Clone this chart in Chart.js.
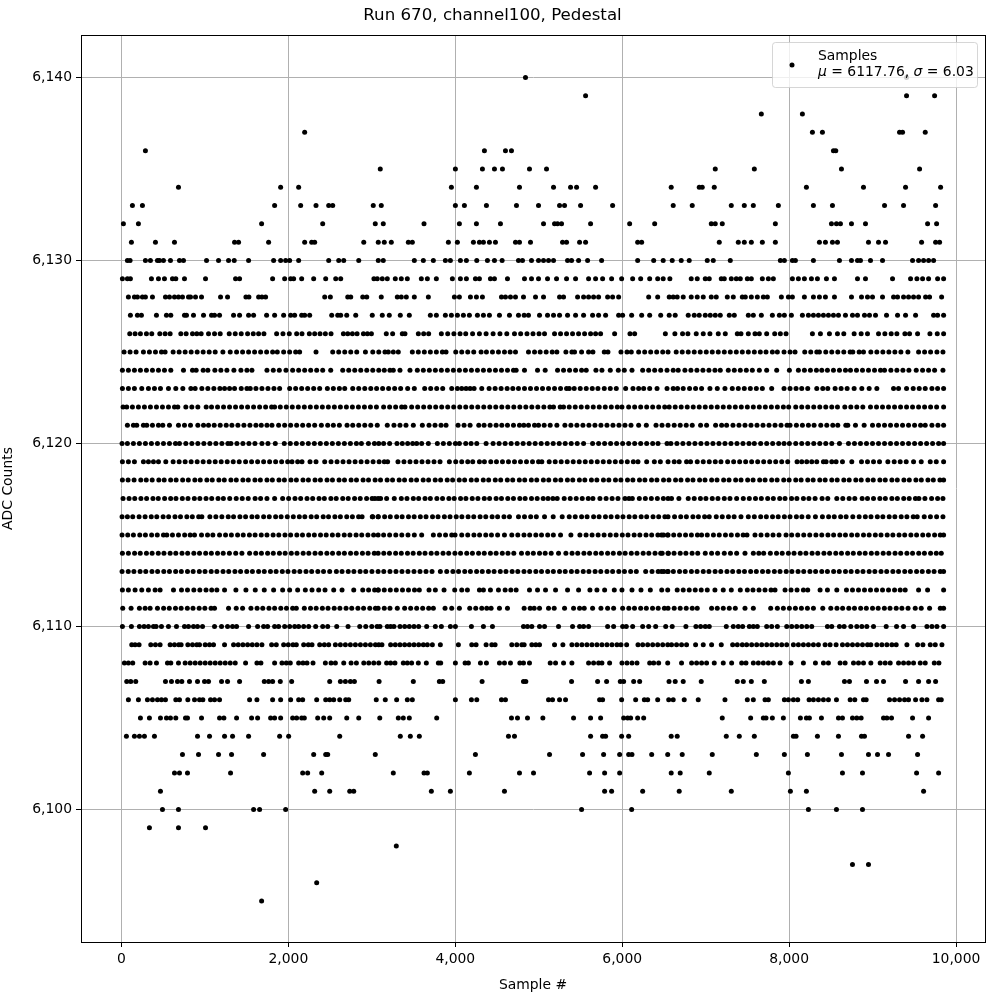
<!DOCTYPE html>
<html>
<head>
<meta charset="utf-8">
<style>html,body{margin:0;padding:0;background:#fff}canvas{display:block}</style>
<script src="https://cdn.jsdelivr.net/npm/chart.js@4/dist/chart.umd.min.js"></script>
</head>
<body>
<canvas id="c" width="1000" height="1000"></canvas>
<script>
const chartTitle = "Run 670, channel100, Pedestal";
const xTitle = "Sample #";
const yTitle = "ADC Counts";
const legendName = "Samples";
const mu = "6117.76";
const sigma = "6.03";

const s6140=[4841,9407];
const s6139=[5561,9407,9743];
const s6138=[7667,8159];
const s6137=[2195,8279,8399,9323,9359,9631];
const s6136=[287,4349,4601,4673,8531,8559];
const s6135=[3101,4001,4325,4469,4565,4889,5093,7115,7583,8627,9563];
const s6134=[683,1907,2123,3953,4253,4769,5177,5381,5453,5681,6587,6923,6959,7103,8207,8891,9395,9815];
const s6133=[131,251,1835,2147,2331,2483,2531,3017,3113,4001,4109,4373,4733,4997,5249,5309,5501,5885,6611,6839,7307,7463,7571,7871,8291,8519,9143,9371,9755];
const s6132=[23,203,1679,2411,3041,3137,3625,4049,4253,4541,5057,5189,5225,5273,5621,6089,6389,7067,7115,7199,7835,8507,8567,8615,8747,8915,9659,9767];
const s6131=[119,407,635,1355,1403,1763,2195,2279,2315,2903,3077,3149,3233,3437,3485,3917,4025,4217,4289,4337,4409,4481,4721,4769,4901,5285,5333,5489,5561,6185,6233,7163,7391,7463,7547,7679,7835,8363,8435,8519,8579,8951,9071,9155,9587,9755,9803];
const s6130=[71,103,287,347,431,455,503,587,695,743,1019,1163,1283,1351,1523,1823,1907,1967,2015,2123,2483,2603,2663,2843,3077,3137,3509,3617,3737,3881,3941,4061,4133,4257,4385,4469,4561,4757,4805,4913,4997,5057,5117,5177,5345,5393,5477,5585,5753,6185,6377,6491,6599,6707,6803,7019,7091,7295,7895,7943,8039,8075,8291,8603,8747,8819,8855,8975,9119,9479,9551,9611,9671,9731];
const s6129=[11,71,107,359,443,515,611,651,755,1007,1367,1415,1811,1955,2027,2063,2159,2303,2447,2567,2627,3025,3065,3125,3185,3281,3353,3425,3593,3665,3773,3965,4061,4133,4241,4289,4421,4469,4625,4829,4913,4997,5105,5213,5333,5441,5597,5681,5765,5873,5993,6125,6221,6329,6425,6491,6571,6827,6899,6995,7043,7187,7223,7307,7367,7415,7499,7547,7679,7751,7811,8039,8111,8183,8267,8339,8447,8543,8819,8915,9239,9455,9531,9599,9671,9779,9851];
const s6128=[83,155,191,251,287,371,527,575,635,683,731,803,827,887,959,1187,1271,1491,1527,1643,1683,1727,2435,2503,2711,2747,2891,2939,3113,3305,3353,3413,3509,3677,3989,4049,4181,4253,4325,4553,4601,4661,4721,4817,4961,5057,5249,5297,5465,5537,5597,5657,5717,5825,5885,5957,6317,6425,6563,6611,6659,6731,6827,6899,6971,7067,7127,7259,7331,7439,7475,7547,7619,7691,7739,7907,7991,8039,8183,8291,8363,8435,8543,8747,8867,8939,8999,9119,9251,9299,9371,9431,9491,9551,9635,9683,9827];
const s6127=[107,191,239,419,539,591,755,779,863,983,1079,1115,1175,1343,1415,1523,1583,1739,1835,1943,2027,2075,2159,2195,2255,2519,2591,2627,2699,2807,3005,3125,3209,3341,3449,3701,3773,3881,3953,4025,4097,4169,4265,4337,4409,4529,4649,4757,4825,4877,5009,5105,5177,5249,5345,5441,5537,5645,5717,5801,5957,6005,6113,6233,6329,6461,6563,6635,6791,6863,6923,6995,7055,7115,7175,7283,7343,7511,7571,7667,7799,7883,7943,8027,8159,8231,8291,8351,8411,8471,8531,8591,8675,8759,8819,8903,8963,9035,9167,9299,9395,9515,9731,9779,9851];
const s6126=[99,163,227,299,363,459,523,583,711,775,851,903,955,1043,1115,1183,1291,1363,1435,1511,1579,1643,1707,1859,1935,2011,2099,2163,2251,2315,2379,2443,2511,2659,2711,2767,2823,2899,2947,2995,3173,3249,3365,3397,3557,3621,3681,3833,3909,3983,4057,4125,4207,4289,4369,4453,4535,4617,4709,4783,4859,4931,5003,5069,5189,5261,5333,5405,5477,5549,5621,5681,5741,5909,6093,6149,6517,6631,6723,6787,6887,6971,7051,7151,7235,7379,7423,7511,7591,7643,7731,7827,7895,7963,8279,8375,8483,8579,8655,8779,8863,8939,9071,9147,9223,9291,9387,9443,9539,9687,9775,9851];
const s6125=[31,103,175,263,335,407,479,523,619,691,763,835,907,979,1051,1123,1215,1303,1379,1451,1523,1595,1667,1739,1811,1867,1943,2015,2087,2135,2331,2531,2603,2675,2747,2819,2923,3011,3083,3157,3197,3257,3317,3485,3557,3629,3701,3773,3845,3889,4005,4077,4149,4221,4309,4373,4445,4517,4589,4657,4721,4877,4949,5017,5089,5161,5217,5325,5397,5429,5513,5597,5649,5785,5829,5985,6057,6109,6197,6269,6341,6413,6485,6549,6647,6719,6791,6863,6935,7007,7079,7151,7223,7295,7367,7439,7511,7583,7655,7723,7799,7859,7939,8011,8071,8187,8259,8331,8363,8439,8511,8583,8655,8731,8763,8839,8891,8979,9051,9123,9195,9267,9339,9423,9551,9623,9695,9771,9843];
const s6124=[11,83,155,227,299,371,443,515,591,743,851,895,979,1035,1119,1191,1263,1347,1431,1503,1563,1743,1819,1891,1971,2051,2123,2195,2267,2339,2411,2507,2651,2723,2795,2867,2939,3011,3083,3149,3217,3257,3337,3457,3545,3617,3689,3761,3833,3905,3977,4049,4121,4193,4265,4337,4409,4481,4553,4625,4697,4729,4829,4985,5077,5225,5297,5369,5441,5513,5569,5685,5757,5857,5953,6025,6117,6245,6317,6389,6461,6537,6611,6671,6751,6823,6895,6967,7039,7111,7175,7271,7343,7415,7487,7559,7643,7731,7851,8003,8111,8183,8255,8327,8391,8459,8531,8603,8675,8735,8807,8879,8951,9023,9095,9143,9219,9291,9363,9435,9523,9599,9671,9743,9843];
const s6123=[11,83,155,243,323,395,467,563,651,735,831,883,963,1035,1107,1179,1235,1295,1355,1435,1503,1543,1611,1683,1755,1827,1895,2015,2087,2159,2231,2303,2375,2467,2539,2611,2675,2771,2843,2915,2987,3057,3129,3201,3273,3345,3429,3509,3633,3705,3777,3849,3957,4025,4077,4129,4177,4225,4317,4405,4477,4549,4621,4689,4757,4829,4901,4973,5045,5117,5189,5261,5333,5365,5425,5497,5569,5641,5709,5785,5857,5929,6041,6129,6197,6257,6329,6417,6537,6611,6663,6731,6807,6879,6951,7051,7139,7231,7319,7391,7463,7535,7607,7679,7791,7939,8011,8083,8151,8223,8331,8403,8463,8551,8623,8695,8779,8871,8959,9051,9251,9311,9407,9487,9559,9631,9711,9779,9851];
const s6122=[19,63,131,203,275,347,419,491,563,635,675,771,843,915,1015,1079,1151,1223,1295,1367,1439,1511,1583,1655,1727,1799,1835,1903,1975,2047,2119,2191,2263,2335,2407,2479,2551,2623,2695,2767,2839,2911,2983,3055,3141,3213,3285,3357,3397,3477,3549,3621,3693,3765,3837,3909,3981,4053,4125,4197,4269,4341,4413,4485,4557,4629,4701,4773,4845,4917,4989,5061,5133,5177,5257,5297,5365,5437,5509,5581,5653,5725,5797,5869,5941,5997,6077,6149,6221,6293,6365,6437,6509,6563,6635,6707,6779,6851,6923,6995,7067,7139,7211,7283,7355,7427,7499,7571,7643,7715,7787,7859,7931,7995,8079,8151,8223,8295,8367,8439,8511,8579,8667,8739,8811,8883,8975,9047,9119,9191,9263,9335,9407,9479,9551,9623,9695,9767,9851];
const s6121=[71,143,183,263,303,371,443,495,575,683,755,827,915,983,1043,1111,1183,1255,1323,1395,1467,1539,1611,1675,1743,1803,1883,1955,2027,2099,2171,2243,2315,2395,2471,2539,2611,2703,2771,2843,2915,2987,3065,3185,3265,3337,3409,3497,3605,3685,3757,3829,3889,4033,4105,4177,4281,4345,4417,4489,4557,4625,4697,4769,4821,4877,4949,4997,5065,5137,5217,5313,5385,5457,5529,5601,5673,5745,5817,5889,5961,6033,6105,6197,6289,6405,6477,6549,6623,6695,6767,6839,6939,7011,7119,7191,7251,7327,7399,7471,7543,7615,7687,7759,7831,7903,7975,8011,8087,8159,8231,8299,8379,8451,8523,8583,8679,8703,8795,8899,8999,9071,9143,9215,9287,9359,9431,9503,9575,9631,9711,9783,9851];
const s6120=[7,71,143,215,287,359,431,503,575,647,695,771,843,915,987,1059,1131,1203,1275,1311,1383,1455,1527,1599,1683,1755,1843,1951,2023,2095,2167,2239,2311,2383,2455,2527,2599,2671,2743,2815,2875,2959,3031,3083,3141,3213,3301,3365,3429,3489,3537,3597,3677,3785,3857,3929,4001,4049,4125,4189,4257,4369,4453,4525,4597,4669,4741,4813,4885,4957,5029,5101,5173,5245,5317,5389,5461,5537,5645,5717,5789,5861,5933,6005,6077,6149,6221,6293,6365,6429,6537,6583,6655,6727,6799,6871,6943,7015,7087,7159,7231,7303,7375,7447,7519,7583,7659,7731,7803,7875,7939,8003,8079,8151,8223,8295,8367,8439,8511,8603,8711,8783,8855,8927,8999,9071,9143,9215,9287,9359,9431,9503,9575,9647,9719,9791,9851];
const s6119=[11,83,155,263,323,383,443,531,619,691,763,835,907,979,1051,1123,1195,1267,1339,1411,1487,1559,1631,1703,1775,1847,1919,1991,2043,2111,2163,2259,2331,2435,2511,2583,2655,2727,2799,2871,2943,3015,3087,3149,3189,3313,3385,3457,3529,3601,3673,3745,3817,3929,4005,4077,4149,4209,4289,4349,4425,4493,4565,4637,4709,4781,4853,4925,4997,5037,5125,5197,5269,5341,5413,5485,5557,5629,5701,5773,5845,5917,5989,6061,6133,6189,6293,6385,6457,6549,6623,6683,6771,6819,6899,6971,7043,7115,7183,7263,7335,7407,7479,7551,7623,7695,7767,7839,7911,7983,8095,8151,8211,8271,8331,8411,8443,8511,8563,8639,8751,8867,8939,9011,9083,9183,9259,9331,9403,9491,9583,9691,9763,9851];
const s6118=[11,79,151,231,297,368,447,512,589,655,733,801,879,944,1023,1088,1167,1232,1311,1376,1455,1520,1599,1664,1743,1808,1887,1952,2031,2096,2175,2240,2319,2384,2463,2528,2607,2672,2751,2816,2895,2960,3039,3104,3183,3248,3327,3392,3471,3536,3615,3680,3759,3824,3903,3968,4047,4112,4191,4256,4335,4400,4479,4544,4623,4688,4767,4832,4911,4976,5055,5120,5199,5264,5343,5408,5487,5552,5631,5696,5775,5840,5919,5984,6063,6128,6207,6272,6351,6416,6495,6560,6639,6704,6783,6848,6927,6992,7071,7136,7215,7280,7359,7424,7503,7568,7647,7712,7791,7856,7935,8000,8079,8144,8223,8288,8367,8432,8511,8576,8655,8720,8799,8864,8943,9008,9087,9152,9231,9296,9375,9440,9519,9584,9663,9728,9807,9851];
const s6117=[19,91,159,233,301,377,441,517,589,653,729,797,873,939,1013,1081,1157,1221,1297,1375,1447,1519,1601,1667,1743,1835,1931,2003,2079,2147,2223,2291,2367,2431,2509,2573,2651,2717,2793,2861,2937,3003,3075,3037,3105,3177,3269,3353,3421,3497,3561,3637,3701,3779,3847,3923,3987,4063,4127,4203,4271,4347,4411,4489,4553,4629,4697,4773,4837,4913,4981,5053,5111,5169,5221,5305,5377,5449,5521,5593,5649,5733,5807,5879,5949,6033,6081,6121,6205,6277,6349,6421,6493,6549,6591,6679,6791,6863,6937,7003,7079,7147,7223,7291,7371,7451,7523,7597,7667,7743,7811,7887,7951,8029,8093,8171,8237,8311,8395,8463,8571,8643,8719,8787,8875,8939,9011,9087,9153,9231,9297,9373,9439,9513,9555,9627,9707,9779,9843];
const s6116=[7,71,135,211,283,357,423,499,565,641,707,783,849,925,963,1059,1131,1203,1279,1343,1419,1487,1563,1627,1703,1771,1847,1913,1987,2059,2131,2197,2273,2339,2417,2481,2557,2623,2699,2767,2841,2883,3011,3075,3005,3077,3153,3221,3297,3363,3439,3507,3581,3649,3727,3793,3869,3937,4011,4079,4153,4221,4297,4365,4441,4507,4583,4649,4757,4829,4903,4971,5069,5173,5281,5365,5437,5513,5579,5657,5723,5799,5867,5941,6009,6083,6151,6227,6293,6369,6437,6511,6549,6627,6701,6769,6847,6913,6987,7043,7127,7199,7273,7341,7423,7511,7583,7659,7727,7801,7869,7943,8011,8087,8153,8229,8315,8399,8473,8541,8617,8683,8763,8839,8913,8981,9057,9123,9199,9267,9343,9411,9487,9535,9619,9693,9767,9843];
const s6115=[7,75,143,219,287,361,429,503,543,611,683,757,823,875,959,1031,1095,1175,1247,1317,1391,1459,1533,1601,1675,1743,1817,1885,1959,2027,2101,2169,2243,2311,2385,2453,2527,2595,2669,2737,2811,2879,2953,3021,3075,3141,3213,3287,3359,3433,3509,3597,3737,3811,3883,3957,3997,4077,4149,4223,4291,4365,4433,4507,4589,4677,4749,4823,4891,4965,5033,5107,5175,5261,5385,5493,5567,5639,5711,5783,5857,5927,6001,6069,6143,6211,6285,6353,6427,6495,6549,6471,6543,6617,6687,6759,6829,6901,6951,7019,7093,7163,7237,7307,7381,7449,7495,7591,7663,7737,7807,7879,7963,8031,8103,8175,8247,8321,8391,8465,8533,8607,8675,8749,8817,8891,8959,9033,9101,9175,9243,9317,9385,9459,9527,9601,9669,9743,9811,9851];
const s6114=[11,83,157,225,299,367,441,509,583,651,725,793,867,935,1009,1077,1151,1219,1293,1369,1443,1535,1609,1677,1751,1819,1893,1961,2035,2103,2177,2245,2319,2387,2461,2529,2603,2671,2745,2813,2887,2955,3029,3075,3143,3211,3285,3353,3427,3495,3569,3637,3711,3779,3853,3921,3995,4063,4137,4205,4279,4347,4421,4489,4563,4631,4701,4793,4867,4935,5009,5077,5149,5237,5325,5399,5467,5541,5609,5683,5751,5825,5893,5967,6035,6109,6177,6251,6319,6393,6461,6549,6479,6553,6621,6695,6763,6837,6905,6995,7071,7143,7223,7297,7371,7471,7571,7637,7695,7775,7849,7917,7991,8059,8133,8201,8275,8343,8417,8485,8559,8627,8701,8769,8843,8911,8985,9053,9127,9195,9269,9337,9411,9479,9553,9621,9695,9763,9823];
const s6113=[7,81,149,223,291,365,433,507,575,649,717,791,859,933,1001,1075,1143,1217,1285,1359,1427,1501,1569,1643,1711,1785,1853,1927,1995,2069,2137,2211,2279,2353,2421,2495,2575,2643,2717,2785,2859,2927,3001,3075,3143,3217,3289,3361,3433,3505,3577,3649,3721,3821,3897,3971,4039,4113,4181,4255,4323,4397,4465,4539,4607,4681,4749,4823,4891,4965,5033,5107,5175,5249,5317,5391,5459,5533,5601,5675,5743,5817,5885,5959,6027,6101,6169,6281,6357,6431,6499,6549,6471,6545,6613,6687,6755,6829,6897,6971,7039,7113,7181,7255,7323,7397,7465,7539,7607,7681,7749,7823,7891,7965,8033,8107,8175,8249,8317,8391,8459,8533,8601,8675,8743,8817,8885,8959,9027,9101,9169,9243,9311,9385,9453,9527,9595,9669,9737,9811,9851];
const s6112=[11,83,163,243,323,403,463,623,719,791,867,939,1013,1081,1143,1235,1371,1491,1603,1711,1823,1931,2015,2111,2203,2283,2363,2439,2543,2643,2783,2891,2961,3033,3075,3077,3149,3221,3293,3367,3439,3511,3569,3685,3761,3865,3993,4077,4145,4289,4337,4421,4517,4597,4665,4729,4889,4985,5081,5201,5345,5477,5613,5697,5789,5905,5997,6117,6225,6337,6473,6545,6659,6731,6803,6875,6947,7019,7111,7211,7307,7415,7499,7567,7639,7711,7783,7831,7951,8023,8095,8171,8223,8371,8459,8571,8687,8759,8831,8903,8975,9047,9119,9191,9263,9331,9391,9551,9659,9851];
const s6111=[15,115,215,283,343,431,505,573,647,715,789,857,931,999,1073,1115,1283,1375,1451,1551,1625,1693,1767,1835,1909,1977,2051,2095,2191,2265,2333,2407,2475,2549,2617,2691,2759,2833,2901,2975,3043,3075,3149,3217,3305,3393,3465,3537,3609,3681,3737,3877,3957,4049,4173,4245,4317,4377,4429,4529,4625,4825,4897,4945,5009,5117,5185,5309,5417,5489,5545,5645,5745,5825,5897,6005,6079,6147,6221,6289,6363,6431,6505,6549,6623,6695,6767,6839,6899,7071,7139,7211,7283,7355,7471,7571,7779,7859,7931,8003,8075,8147,8219,8291,8403,8499,8573,8641,8715,8783,8857,8925,8999,9067,9141,9209,9283,9351,9425,9511,9583,9683,9811,9851];
const s6110=[11,119,215,271,323,383,415,479,563,659,755,803,863,911,971,1115,1199,1271,1331,1379,1523,1631,1703,1751,1835,1883,1955,2015,2075,2123,2183,2243,2327,2411,2471,2579,2715,2855,2927,2999,3063,3097,3185,3225,3265,3337,3393,3449,3505,3561,3657,3761,3833,3941,4001,4193,4337,4445,4817,4865,4917,5009,5069,5237,5405,5489,5537,5597,5825,5897,6005,6049,6125,6245,6317,6401,6521,6599,6763,6883,6939,6995,7043,7247,7331,7391,7443,7523,7571,7619,7731,7791,7859,7971,8031,8091,8151,8211,8271,8459,8511,8603,8659,8739,8811,8871,8931,9011,9163,9287,9371,9491,9651,9711,9771,9851];
const s6109=[123,163,211,351,407,463,583,635,687,715,795,851,903,935,1003,1055,1103,1235,1343,1399,1455,1511,1567,1623,1683,1799,1855,1943,1999,2055,2095,2183,2239,2283,2375,2431,2483,2563,2623,2683,2743,2803,2863,2923,2983,3043,3083,3121,3225,3281,3337,3393,3449,3505,3561,3617,3665,3725,3821,4037,4197,4249,4369,4437,4477,4677,4737,4797,4825,4917,4965,5009,5189,5289,5397,5457,5517,5577,5637,5697,5757,5817,5877,5937,5985,6053,6189,6245,6305,6365,6425,6485,6545,6591,6651,6711,6771,6879,6971,7071,7187,7323,7379,7439,7491,7551,7611,7671,7731,7791,7851,7911,7971,8051,8111,8171,8231,8291,8351,8431,8491,8563,8639,8699,8759,8819,8879,8939,8979,9051,9111,9171,9231,9283,9411,9539,9603,9691,9751,9831];
const s6108=[35,83,135,283,343,419,551,591,683,763,823,883,943,1003,1063,1123,1183,1243,1303,1363,1487,1623,1671,1835,1923,1975,2023,2123,2175,2223,2295,2443,2511,2563,2663,2751,2815,2903,2963,3023,3083,3177,3225,3277,3377,3425,3477,3557,3653,3797,3825,4001,4117,4157,4301,4373,4529,4589,4661,4773,4817,4889,5137,5201,5297,5397,5597,5657,5717,5757,5849,5997,6057,6117,6177,6329,6377,6437,6545,6711,6831,6891,6951,7011,7103,7211,7311,7431,7483,7571,7631,7691,7751,7811,7891,8023,8171,8315,8411,8471,8611,8671,8771,8831,8891,8979,9091,9151,9211,9311,9371,9431,9491,9571,9631,9739,9795];
const s6107=[63,111,171,527,599,671,723,815,911,995,1043,1199,1271,1415,1711,1763,1811,1903,2039,2495,2623,2683,2743,2791,3087,3497,3809,3849,4321,4817,4845,5393,5705,5813,5977,6017,6137,6209,6561,6635,6731,6947,7379,7451,7547,7703,8147,8231,8663,8723,8927,9047,9131,9395,9551,9671,9755];
const s6106=[83,203,311,371,431,479,527,651,695,795,875,935,975,1067,1115,1175,1535,1623,1811,1907,2027,2123,2171,2339,2447,2495,2543,2615,2687,2723,3053,3161,3297,3425,3485,4001,4193,4257,4553,4601,5117,5165,5249,5321,5729,5765,5993,6161,6265,6305,6425,6557,6611,6743,6911,7231,7499,7571,7711,7751,7943,7991,8051,8103,8239,8291,8351,8411,8471,8567,8731,8787,8891,8923,9203,9263,9323,9383,9431,9515,9591,9651,9791,9823];
const s6105=[227,335,467,539,587,651,767,791,959,1175,1227,1379,1559,1631,1787,1835,1907,2051,2099,2159,2191,2351,2423,2495,2699,2843,3095,3317,3377,3449,3777,4673,4745,4865,5049,5417,5621,5741,6017,6065,6101,6185,6257,7199,7539,7691,7723,7799,7931,8135,8207,8243,8387,8591,8639,8759,8811,8863,9131,9171,9227,9479,9671];
const s6104=[59,155,215,275,395,911,1055,1235,1331,1523,1895,2003,2615,3341,3461,3569,4637,4709,5621,5765,5801,5993,6077,6587,6659,7247,7403,7583,8051,8083,8339,8591,8867,8903,9431,9599];
const s6103=[731,923,1163,1319,1703,2303,2447,2471,3041,4241,5129,5525,5777,5969,6077,6117,6353,6545,6719,7079,7607,7943,8219,8627,8951,9059,9191,9539];
const s6102=[635,695,791,1307,2171,2231,2399,3257,3625,3665,4169,4769,4937,5609,5789,5969,6587,6695,7043,7991,8639,8879,9527,9791];
const s6101=[467,2315,2495,2735,2783,3713,3941,4589,5789,5873,6245,6683,7307,8015,8207,9611];
const s6100=[491,683,1583,1655,1967,5513,6113,8231,8567,8879];
const s6099=[335,683,1007];
const s6098=[3293];
const s6097=[8759,8951];
const s6096=[2339];
const s6095=[1679];

const levels=[6140,6139,6138,6137,6136,6135,6134,6133,6132,6131,6130,6129,6128,6127,6126,6125,6124,6123,6122,6121,6120,6119,6118,6117,6116,6115,6114,6113,6112,6111,6110,6109,6108,6107,6106,6105,6104,6103,6102,6101,6100,6099,6098,6097,6096,6095];
const sampleRows=[s6140,s6139,s6138,s6137,s6136,s6135,s6134,s6133,s6132,s6131,s6130,s6129,s6128,s6127,s6126,s6125,s6124,s6123,s6122,s6121,s6120,s6119,s6118,s6117,s6116,s6115,s6114,s6113,s6112,s6111,s6110,s6109,s6108,s6107,s6106,s6105,s6104,s6103,s6102,s6101,s6100,s6099,s6098,s6097,s6096,s6095];
const xTicks=[0,2000,4000,6000,8000,10000];
const yTicks=[6100,6110,6120,6130,6140];

const points=[];
levels.forEach((lv,i)=>sampleRows[i].forEach(s=>points.push({x:s,y:lv})));

const FONT="'DejaVu Sans'";
const legendPlugin={
  id:'mplLegend',
  afterDraw(chart){
    const c=chart.ctx; c.save();
    const x=772.5,y=42.5,w=205,h=45,r=3;
    c.beginPath(); c.roundRect(x,y,w,h,r);
    c.fillStyle='rgba(255,255,255,0.8)'; c.fill();
    c.strokeStyle='rgba(204,204,204,0.8)'; c.lineWidth=1; c.stroke();
    c.fillStyle='#000'; c.beginPath(); c.arc(792,65,2.5,0,Math.PI*2); c.fill();
    c.textBaseline='alphabetic'; c.textAlign='left';
    c.fillStyle='#000';
    c.font="13.9px "+FONT; c.fillText(legendName,818,59.5);
    let px=818; const py=76;
    const parts=[["\u03bc",true],[" = "+mu+", ",false],["\u03c3",true],[" = "+sigma,false]];
    parts.forEach(([t,it])=>{
      c.font=(it?"italic ":"")+"13.9px "+FONT;
      c.fillText(t,px,py); px+=c.measureText(t).width;
    });
    c.restore();
  }
};

new Chart(document.getElementById('c'),{
  type:'scatter',
  data:{datasets:[{label:legendName,data:points,backgroundColor:'#000',borderWidth:0,pointRadius:2.5,pointHoverRadius:2.5,pointBorderWidth:0}]},
  options:{
    responsive:false,animation:false,devicePixelRatio:1,
    layout:{padding:{left:0,right:15,top:0,bottom:0}},
    plugins:{
      legend:{display:false},tooltip:{enabled:false},
      title:{display:true,text:chartTitle,color:'#000',font:{family:FONT,size:16.67,weight:'normal'},padding:{top:6,bottom:9}}
    },
    scales:{
      x:{type:'linear',min:-485,max:10347,
        afterBuildTicks(a){a.ticks=xTicks.map(v=>({value:v}));},
        afterFit(a){a.height=58;},
        grid:{color:'#b0b0b0',lineWidth:1,tickColor:'#000',tickLength:5,drawTicks:true},
        border:{display:true,color:'#000',width:1},
        ticks:{color:'#000',font:{family:FONT,size:13.9},maxRotation:0,padding:4,includeBounds:false},
        title:{display:true,text:xTitle,color:'#000',font:{family:FONT,size:13.9},padding:{top:0,bottom:6}}},
      y:{type:'linear',min:6092.76,max:6142.32,
        afterBuildTicks(a){a.ticks=yTicks.map(v=>({value:v}));},
        afterFit(a){a.width=81;},
        grid:{color:'#b0b0b0',lineWidth:1,tickColor:'#000',tickLength:5,drawTicks:true},
        border:{display:true,color:'#000',width:1},
        ticks:{color:'#000',font:{family:FONT,size:13.9},padding:4,includeBounds:false},
        title:{display:true,text:yTitle,color:'#000',font:{family:FONT,size:13.9},padding:{top:0,bottom:6}}}
    }
  },
  plugins:[legendPlugin,{id:'frame',afterDatasetsDraw(chart){const {left,right,top,bottom}=chart.chartArea,c=chart.ctx;c.save();c.strokeStyle='#000';c.lineWidth=1;c.strokeRect(Math.round(left)+.5,Math.round(top)+.5,Math.round(right-left),Math.round(bottom-top));c.restore();}}]
});
</script>
</body>
</html>
